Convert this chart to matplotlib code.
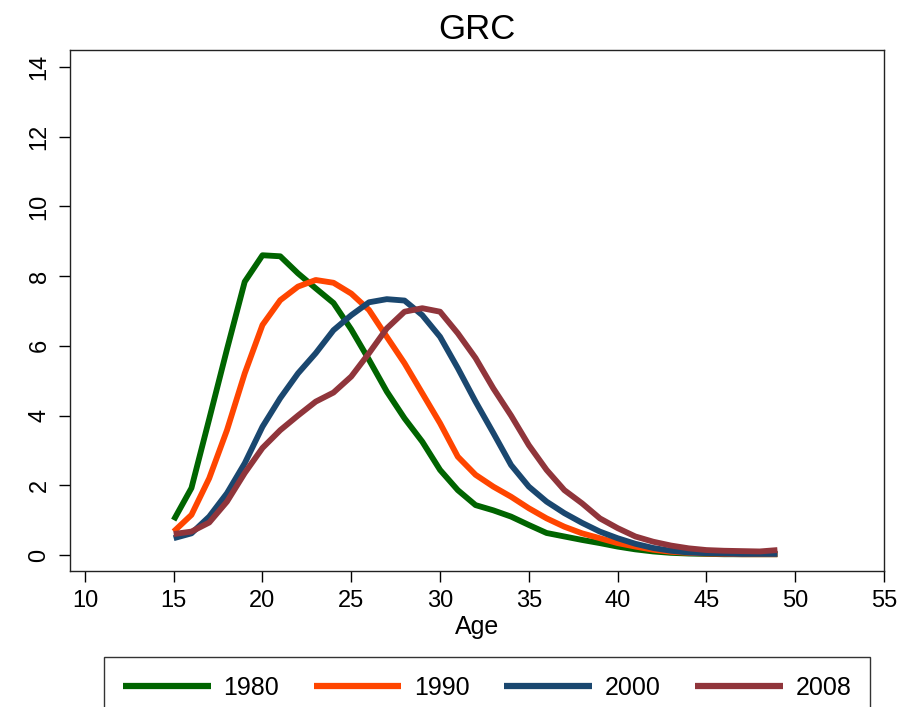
import matplotlib
matplotlib.use("Agg")
import matplotlib.pyplot as plt
import numpy as np

plt.rcParams['font.family'] = ['Liberation Sans', 'DejaVu Sans']

ages = np.arange(15, 50)

# fertility by age, one array per year
y1980 = [1.0, 1.92, 3.9, 5.9, 7.84, 8.6, 8.57, 8.08, 7.65, 7.23, 6.47, 5.6, 4.69, 3.92, 3.25,
         2.44, 1.86, 1.43, 1.28, 1.1, 0.86, 0.63, 0.53, 0.43, 0.34, 0.24, 0.16, 0.1, 0.06, 0.04,
         0.03, 0.02, 0.02, 0.02, 0.02]
y1990 = [0.67, 1.15, 2.2, 3.58, 5.21, 6.6, 7.31, 7.7, 7.89, 7.81, 7.5, 7.03, 6.26, 5.5, 4.64,
         3.78, 2.82, 2.3, 1.96, 1.67, 1.34, 1.05, 0.81, 0.62, 0.48, 0.34, 0.24, 0.15, 0.09, 0.06,
         0.04, 0.03, 0.02, 0.02, 0.02]
y2000 = [0.48, 0.62, 1.1, 1.77, 2.63, 3.68, 4.5, 5.21, 5.79, 6.45, 6.88, 7.25, 7.34, 7.3, 6.88,
         6.26, 5.36, 4.4, 3.5, 2.58, 1.96, 1.53, 1.2, 0.92, 0.67, 0.48, 0.32, 0.2, 0.12, 0.07,
         0.05, 0.04, 0.03, 0.03, 0.03]
y2008 = [0.6, 0.67, 0.93, 1.53, 2.35, 3.07, 3.58, 4.0, 4.4, 4.66, 5.12, 5.79, 6.5, 6.98, 7.08,
         6.98, 6.36, 5.65, 4.78, 4.0, 3.15, 2.44, 1.86, 1.48, 1.05, 0.77, 0.53, 0.38, 0.27, 0.19,
         0.14, 0.12, 0.11, 0.1, 0.14]

labels = ["1980", "1990", "2000", "2008"]
colors = ["#006400", "#FF4500", "#1A476F", "#90353B"]

fig = plt.figure(figsize=(9.02, 7.07), dpi=100)
ax = fig.add_axes([0.0776, 0.1924, 0.9024, 0.7369])

for yv, lab, c in zip([y1980, y1990, y2000, y2008], labels, colors):
    ax.plot(ages, yv, color=c, lw=4.2, label=lab, solid_capstyle='butt', solid_joinstyle='round')

ax.set_xlim(9.16, 55.0)
ax.set_ylim(-0.46, 14.49)
ax.set_xticks(np.arange(10, 56, 5))
ax.set_yticks(np.arange(0, 15, 2))
ax.tick_params(axis='both', direction='out', length=8, width=1, labelsize=17, pad=6)
for t in ax.get_yticklabels():
    t.set_rotation(90)
    t.set_va('center')

for s in ax.spines.values():
    s.set_linewidth(1.0)
    s.set_color('#222222')

ax.set_title("GRC", fontsize=25, pad=8)
ax.set_xlabel("Age", fontsize=18, labelpad=2)

leg = fig.legend(loc='upper center', bbox_to_anchor=(0.54, 1 - 657 / 707), ncol=4,
                 frameon=True, fancybox=False, edgecolor='black', borderpad=0.75,
                 borderaxespad=0.0, handlelength=3.5, handletextpad=0.5, columnspacing=1.4,
                 prop={'size': 18})
leg.get_frame().set_linewidth(1.0)
for h in leg.get_lines():
    h.set_linewidth(4.5)

fig.savefig("out.png", dpi=100)
